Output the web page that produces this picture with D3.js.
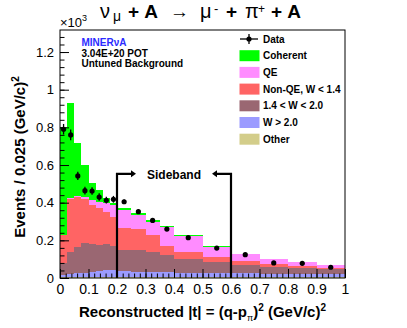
<!DOCTYPE html>
<html>
<head>
<meta charset="utf-8">
<script src="https://cdn.jsdelivr.net/npm/d3@7"></script>
<style>
body { margin: 0; background: #fff; }
text { font-family: "Liberation Sans", Arial, sans-serif; }
</style>
</head>
<body>
<div id="chart"></div>
<script>
// bins and stacked components (events / 0.025 (GeV/c)^2, x10^3)
var binEdges = [0, 0.025, 0.05, 0.075, 0.1, 0.125, 0.15, 0.175, 0.2, 0.25, 0.3, 0.35, 0.4, 0.5, 0.6, 0.7, 0.8, 0.9, 1.0];
var other    = [0.004, 0.004, 0.004, 0.004, 0.004, 0.004, 0.004, 0.004, 0.004, 0.004, 0.003, 0.003, 0.003, 0.003, 0.003, 0.003, 0.003, 0.003];
var wHigh    = [0.011, 0.016, 0.020, 0.024, 0.028, 0.032, 0.038, 0.036, 0.031, 0.028, 0.027, 0.027, 0.025, 0.023, 0.021, 0.019, 0.017, 0.017];
var wMid     = [0.063, 0.120, 0.142, 0.160, 0.148, 0.141, 0.138, 0.130, 0.114, 0.117, 0.110, 0.092, 0.075, 0.057, 0.045, 0.038, 0.035, 0.026];
var nonQE    = [0.150, 0.280, 0.266, 0.232, 0.210, 0.193, 0.172, 0.156, 0.115, 0.109, 0.088, 0.048, 0.037, 0.027, 0.021, 0.013, 0.009, 0.009];
var qe       = [0.002, 0.005, 0.005, 0.010, 0.024, 0.035, 0.045, 0.062, 0.097, 0.077, 0.071, 0.099, 0.083, 0.056, 0.037, 0.028, 0.021, 0.016];
var coherent = [0.570, 0.503, 0.278, 0.170, 0.089, 0.062, 0.028, 0.012, 0.012, 0.012, 0.009, 0.007, 0.005, 0.004, 0.001, 0.000, 0.000, 0.000];

// data points
var dataValues = [0.790, 0.760, 0.542, 0.464, 0.462, 0.430, 0.413, 0.418, 0.405, 0.352, 0.306, 0.260, 0.214, 0.159, 0.124, 0.080, 0.078, 0.057];
var dataErrors = [0.028, 0.028, 0.022, 0.020, 0.020, 0.020, 0.018, 0.018, 0.012, 0.012, 0.011, 0.011, 0.007, 0.006, 0.005, 0.004, 0.004, 0.004];

var xTicks = [0, 0.1, 0.2, 0.3, 0.4, 0.5, 0.6, 0.7, 0.8, 0.9, 1];
var yTicks = [0, 0.2, 0.4, 0.6, 0.8, 1, 1.2];
var sidebandEdges = [0.2, 0.6];
var sidebandHeight = 0.553;

var layerKeys = ["other", "wHigh", "wMid", "nonQE", "qe", "coherent"];
var layerColors = {
    other: "#d3cd8a", wHigh: "#9b9bff", wMid: "#9a6772",
    nonQE: "#ff6464", qe: "#ff8cff", coherent: "#00ff00"
};
var legendKeys = ["coherent", "qe", "nonQE", "wMid", "wHigh", "other"];
var legendLabels = ["Coherent", "QE", "Non-QE, W < 1.4", "1.4 < W < 2.0", "W > 2.0", "Other"];

var width = 407, height = 328;
var margin = {left: 60, right: 62, top: 30, bottom: 50};
var plotW = width - margin.left - margin.right,
    plotH = height - margin.top - margin.bottom;

var svg = d3.select("#chart").append("svg")
    .attr("width", width)
    .attr("height", height);

var g = svg.append("g")
    .attr("transform", "translate(" + margin.left + "," + margin.top + ")");

var x = d3.scaleLinear().domain([0, 1]).range([0, plotW]);
var y = d3.scaleLinear().domain([0, 1.317]).range([plotH, 0]);

// build table for the stack
var rows = [];
for (var i = 0; i < dataValues.length; i++) {
    rows.push({
        x0: binEdges[i], x1: binEdges[i + 1],
        other: other[i], wHigh: wHigh[i], wMid: wMid[i],
        nonQE: nonQE[i], qe: qe[i], coherent: coherent[i]
    });
}

var stacked = d3.stack().keys(layerKeys)(rows);

g.selectAll(".layer")
    .data(stacked)
    .enter().append("g")
    .attr("class", "layer")
    .attr("fill", function(s) { return layerColors[s.key]; })
    .selectAll("rect")
    .data(function(s) { return s; })
    .enter().append("rect")
    .attr("shape-rendering", "crispEdges")
    .attr("x", function(d) { return x(d.data.x0); })
    .attr("width", function(d) { return x(d.data.x1) - x(d.data.x0); })
    .attr("y", function(d) { return y(d[1]); })
    .attr("height", function(d) { return Math.max(0, y(d[0]) - y(d[1])); });

// axes, ticks inside the frame
var xAxis = g.append("g")
    .attr("transform", "translate(0," + plotH + ")")
    .call(d3.axisBottom(x).tickValues(xTicks).tickSize(-9).tickSizeOuter(0).tickPadding(6)
        .tickFormat(function(d) { return d3.format("~g")(d); }));
g.append("g")
    .attr("transform", "translate(0," + plotH + ")")
    .call(d3.axisBottom(x).tickValues(d3.range(0, 1.001, 0.02)).tickSize(-4.5).tickSizeOuter(0).tickFormat(""));
var yAxis = g.append("g")
    .call(d3.axisLeft(y).tickValues(yTicks).tickSize(-9).tickSizeOuter(0).tickPadding(6)
        .tickFormat(function(d) { return d3.format("~g")(d); }));
g.append("g")
    .call(d3.axisLeft(y).tickValues(d3.range(0, 1.3, 0.04)).tickSize(-4.5).tickSizeOuter(0).tickFormat(""));

g.selectAll(".domain").remove();
g.selectAll(".tick line").attr("stroke", "#000");
xAxis.selectAll("text").attr("font-size", 14).attr("font-family", "Liberation Sans").attr("fill", "#000");
yAxis.selectAll("text").attr("font-size", 13).attr("font-family", "Liberation Sans").attr("fill", "#000");

// sideband arrows
function drawArrow(edge, dir) {
    var x0 = x(edge), yy = y(sidebandHeight);
    var x1 = x0 + dir * 14;
    g.append("path")
        .attr("d", "M" + x0 + "," + y(0) + "V" + yy + "H" + x1)
        .attr("fill", "none")
        .attr("stroke", "#000")
        .attr("stroke-width", 2.2);
    g.append("path")
        .attr("d", "M" + (x1 + dir * 5) + "," + yy + "L" + x1 + "," + (yy - 3.5) + "L" + x1 + "," + (yy + 3.5) + "Z")
        .attr("fill", "#000");
}
drawArrow(sidebandEdges[0], 1);
drawArrow(sidebandEdges[1], -1);

g.append("text")
    .attr("x", (x(sidebandEdges[0]) + x(sidebandEdges[1])) / 2)
    .attr("y", y(sidebandHeight) + 5)
    .attr("text-anchor", "middle")
    .attr("font-size", 12)
    .attr("font-weight", "bold")
    .text("Sideband");

// data points
var pts = g.selectAll(".pt")
    .data(dataValues)
    .enter().append("g")
    .attr("class", "pt");

pts.append("line")
    .attr("x1", function(d, i) { return x((binEdges[i] + binEdges[i + 1]) / 2); })
    .attr("x2", function(d, i) { return x((binEdges[i] + binEdges[i + 1]) / 2); })
    .attr("y1", function(d, i) { return y(d - dataErrors[i]); })
    .attr("y2", function(d, i) { return y(d + dataErrors[i]); })
    .attr("stroke", "#000")
    .attr("stroke-width", 1.3);

pts.append("circle")
    .attr("cx", function(d, i) { return x((binEdges[i] + binEdges[i + 1]) / 2); })
    .attr("cy", function(d) { return y(d); })
    .attr("r", 2.6)
    .attr("fill", "#000");

// frame
g.append("rect")
    .attr("width", plotW)
    .attr("height", plotH)
    .attr("fill", "none")
    .attr("stroke", "#000")
    .attr("stroke-width", 1);

// legend
var legend = svg.append("g");
var legY0 = 39, legStep = 16.7;

legend.append("line").attr("x1", 240).attr("x2", 258).attr("y1", legY0).attr("y2", legY0)
    .attr("stroke", "#000").attr("stroke-width", 1.3);
legend.append("line").attr("x1", 249).attr("x2", 249).attr("y1", legY0 - 5).attr("y2", legY0 + 5)
    .attr("stroke", "#000").attr("stroke-width", 1.3);
legend.append("circle").attr("cx", 249).attr("cy", legY0).attr("r", 2.6).attr("fill", "#000");
legend.append("text").attr("x", 263).attr("y", legY0 + 3.6)
    .attr("font-size", 10).attr("font-weight", "bold").text("Data");

legendKeys.forEach(function(k, i) {
    var cy = legY0 + (i + 1) * legStep;
    legend.append("rect")
        .attr("x", 239.5).attr("y", cy - 5.5)
        .attr("width", 20).attr("height", 11)
        .attr("fill", layerColors[k]);
    legend.append("text")
        .attr("x", 263).attr("y", cy + 3.6)
        .attr("font-size", 10).attr("font-weight", "bold")
        .text(legendLabels[i]);
});

// info text
svg.append("text").attr("x", 81.5).attr("y", 46).attr("font-size", 10).attr("font-weight", "bold")
    .attr("fill", "#2b2bff").text("MINERνA");
svg.append("text").attr("x", 81.5).attr("y", 56.5).attr("font-size", 10).attr("font-weight", "bold")
    .text("3.04E+20 POT");
svg.append("text").attr("x", 81.5).attr("y", 67).attr("font-size", 10).attr("font-weight", "bold")
    .text("Untuned Background");

// x10^3
var mult = svg.append("text").attr("x", 60).attr("y", 27).attr("font-size", 13);
mult.append("tspan").text("×10");
mult.append("tspan").attr("font-size", 9).attr("dy", -6).text("3");

// title, pieces placed like the ROOT latex layout
var title = svg.append("text").attr("y", 18).attr("font-size", 19);
title.append("tspan").attr("x", 100).attr("font-size", 20).text("ν");
title.append("tspan").attr("x", 113).attr("font-size", 14).attr("dy", 3).text("μ");
title.append("tspan").attr("x", 128).attr("dy", -3).attr("font-weight", "bold").text("+ A");
title.append("tspan").attr("x", 170).text("→");
title.append("tspan").attr("x", 200).attr("font-size", 20).text("μ");
title.append("tspan").attr("x", 214).attr("font-size", 13).attr("dy", -5).text("-");
title.append("tspan").attr("x", 226).attr("dy", 5).attr("font-weight", "bold").text("+");
title.append("tspan").attr("x", 245).attr("font-size", 20).text("π");
title.append("tspan").attr("x", 258).attr("font-size", 12).attr("dy", -5).text("+");
title.append("tspan").attr("x", 271).attr("dy", 5).attr("font-weight", "bold").text("+ A");

// axis titles
var xt = svg.append("text")
    .attr("x", margin.left + plotW / 2).attr("y", 316.5)
    .attr("text-anchor", "middle").attr("font-size", 15).attr("font-weight", "bold");
xt.append("tspan").text("Reconstructed |t| = (q-p");
xt.append("tspan").attr("font-size", 9).attr("dy", 4).attr("font-weight", "normal").text("π");
xt.append("tspan").attr("dy", -4).text(")");
xt.append("tspan").attr("font-size", 10).attr("dy", -6).text("2");
xt.append("tspan").attr("dy", 6).text(" (GeV/c)");
xt.append("tspan").attr("font-size", 10).attr("dy", -6).text("2");

var yt = svg.append("text")
    .attr("transform", "translate(25," + 157 + ") rotate(-90)")
    .attr("text-anchor", "middle").attr("font-size", 15).attr("font-weight", "bold");
yt.append("tspan").text("Events / 0.025 (GeV/c)");
yt.append("tspan").attr("font-size", 10).attr("dy", -6).text("2");
</script>
</body>
</html>
